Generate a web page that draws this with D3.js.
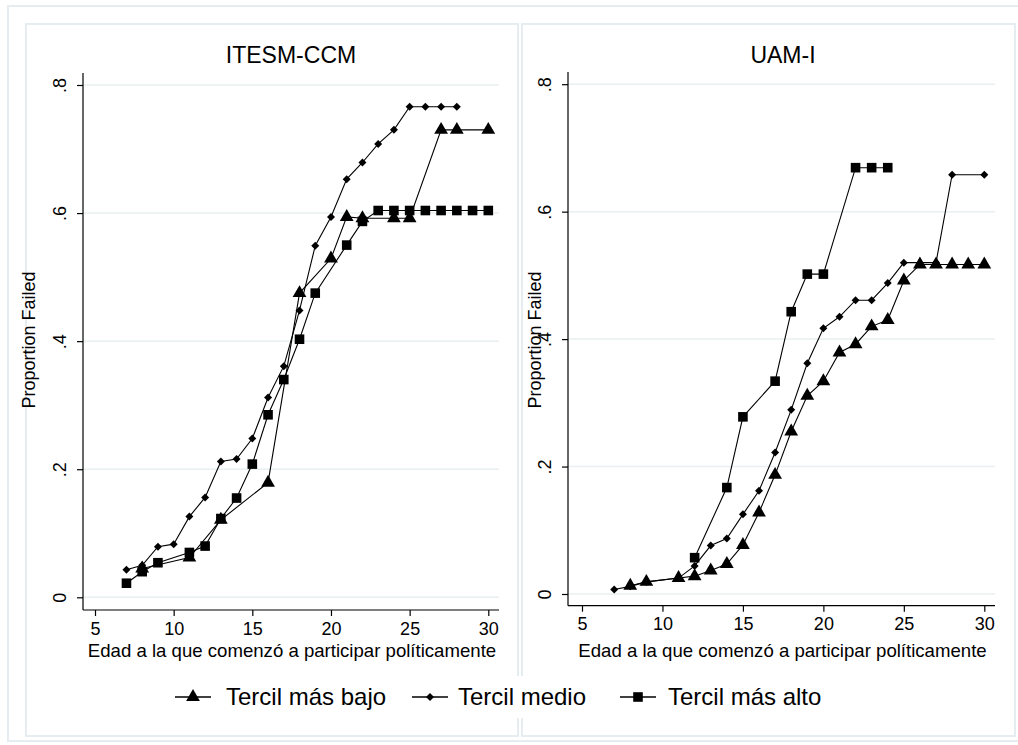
<!DOCTYPE html>
<html>
<head>
<meta charset="utf-8">
<script src="https://cdn.jsdelivr.net/npm/d3@7"></script>
<style>
  body { margin: 0; background: #fff; }
  svg { display: block; }
  text { font-family: "Liberation Sans", Arial, sans-serif; fill: #000; }
</style>
</head>
<body>
<svg id="chart" width="1018" height="745"></svg>
<script>
//////////////////////////
// Data //
//////////////////////////
const yTicks = [0, 0.2, 0.4, 0.6, 0.8];
const yTickLabels = ["0", ".2", ".4", ".6", ".8"];
const xTicks = [5, 10, 15, 20, 25, 30];

const seriesNames = ["Tercil más bajo", "Tercil medio", "Tercil más alto"];

// ITESM-CCM
const itesmBajoAge = [8, 11, 13, 16, 18, 20, 21, 22, 24, 25, 27, 28, 30];
const itesmBajoVal = [0.045, 0.062, 0.121, 0.179, 0.475, 0.529, 0.594, 0.592, 0.592, 0.592, 0.730, 0.730, 0.730];
const itesmMedioAge = [7, 8, 9, 10, 11, 12, 13, 14, 15, 16, 17, 18, 19, 20, 21, 22, 23, 24, 25, 26, 27, 28];
const itesmMedioVal = [0.043, 0.050, 0.079, 0.083, 0.126, 0.156, 0.212, 0.216, 0.248, 0.312, 0.361, 0.448,
  0.549, 0.594, 0.653, 0.679, 0.708, 0.730, 0.766, 0.766, 0.766, 0.766];
const itesmAltoAge = [7, 8, 9, 11, 12, 13, 14, 15, 16, 17, 18, 19, 21, 22, 23, 24, 25, 26, 27, 28, 29, 30];
const itesmAltoVal = [0.022, 0.040, 0.054, 0.070, 0.080, 0.123, 0.155, 0.208, 0.285, 0.340, 0.403, 0.475,
  0.550, 0.587, 0.604, 0.604, 0.604, 0.604, 0.604, 0.604, 0.604, 0.604];

// UAM-I
const uamBajoAge = [8, 9, 11, 12, 13, 14, 15, 16, 17, 18, 19, 20, 21, 22, 23, 24, 25, 26, 27, 28, 29, 30];
const uamBajoVal = [0.013, 0.019, 0.025, 0.028, 0.037, 0.047, 0.077, 0.128, 0.187, 0.255, 0.311, 0.334,
  0.379, 0.392, 0.420, 0.430, 0.492, 0.517, 0.517, 0.517, 0.517, 0.517];
const uamMedioAge = [7, 8, 9, 11, 12, 13, 14, 15, 16, 17, 18, 19, 20, 21, 22, 23, 24, 25, 27, 28, 30];
const uamMedioVal = [0.007, 0.012, 0.019, 0.025, 0.044, 0.076, 0.087, 0.125, 0.162, 0.222, 0.289, 0.362,
  0.417, 0.435, 0.461, 0.461, 0.488, 0.520, 0.520, 0.658, 0.658];
const uamAltoAge = [12, 14, 15, 17, 18, 19, 20, 22, 23, 24];
const uamAltoVal = [0.057, 0.167, 0.278, 0.334, 0.443, 0.502, 0.502, 0.669, 0.669, 0.669];

////////////////////////
// Layout of the page //
////////////////////////
const panels = [
  {
    title: "ITESM-CCM", titleX: 291, box: [26, 518],
    x0: 83, x1: 499, xRange: [95, 488.3], yRange: [597.3, 85], base: 610, top: 73,
    yTitleX: 35,
    series: [[itesmBajoAge, itesmBajoVal], [itesmMedioAge, itesmMedioVal], [itesmAltoAge, itesmAltoVal]],
  },
  {
    title: "UAM-I", titleX: 783, box: [522, 1015],
    x0: 568, x1: 995, xRange: [582, 984.3], yRange: [594, 84.2], base: 605.7, top: 72,
    yTitleX: 541,
    series: [[uamBajoAge, uamBajoVal], [uamMedioAge, uamMedioVal], [uamAltoAge, uamAltoVal]],
  },
];

const gridColor = "#e8f0f1";
const frameColor = "#e6edf0";

// marker shapes: triangle, small diamond, square
const markers = [
  { type: d3.symbolTriangle, size: 82, rotate: 0 },
  { type: d3.symbolSquare, size: 32, rotate: 45 },
  { type: d3.symbolSquare, size: 92, rotate: 0 },
];

const svg = d3.select("#chart");

svg.append("rect").attr("width", 1018).attr("height", 745).attr("fill", "#fff");

// outer frame
svg.append("rect")
  .attr("x", 8).attr("y", 6).attr("width", 1030).attr("height", 735)
  .attr("fill", "none").attr("stroke", frameColor).attr("stroke-width", 2);

panels.forEach((p) => {
  const g = svg.append("g");

  // panel box
  g.append("rect")
    .attr("x", p.box[0]).attr("y", 24)
    .attr("width", p.box[1] - p.box[0]).attr("height", 712)
    .attr("fill", "none").attr("stroke", frameColor).attr("stroke-width", 2);

  const x = d3.scaleLinear().domain([5, 30]).range(p.xRange);
  const y = d3.scaleLinear().domain([0, 0.8]).range(p.yRange);

  // grid lines
  g.append("g").selectAll("line").data(yTicks).join("line")
    .attr("x1", p.x0).attr("x2", p.x1)
    .attr("y1", (d) => y(d)).attr("y2", (d) => y(d))
    .attr("stroke", gridColor).attr("stroke-width", 1.5);

  // axis lines
  g.append("line")
    .attr("x1", p.x0).attr("x2", p.x0).attr("y1", p.top).attr("y2", p.base)
    .attr("stroke", "#000").attr("stroke-width", 1.2);
  g.append("line")
    .attr("x1", p.x0).attr("x2", p.x1).attr("y1", p.base).attr("y2", p.base)
    .attr("stroke", "#000").attr("stroke-width", 1.2);

  // x axis ticks
  const xAxis = g.append("g")
    .attr("transform", `translate(0,${p.base})`)
    .call(d3.axisBottom(x).tickValues(xTicks).tickSize(6).tickSizeOuter(0).tickPadding(6));
  xAxis.select(".domain").remove();
  xAxis.selectAll("line").attr("stroke", "#000").attr("stroke-width", 1.2);
  xAxis.selectAll("text")
    .attr("font-size", 18).attr("font-family", "Liberation Sans, Arial, sans-serif").attr("fill", "#000");

  // y axis ticks (labels rotated like the original)
  const yAxis = g.append("g")
    .attr("transform", `translate(${p.x0},0)`)
    .call(d3.axisLeft(y).tickValues(yTicks).tickSize(6).tickSizeOuter(0)
      .tickFormat((d, i) => yTickLabels[i]));
  yAxis.select(".domain").remove();
  yAxis.selectAll("line").attr("stroke", "#000").attr("stroke-width", 1.2);
  yAxis.selectAll("text")
    .attr("font-size", 18).attr("font-family", "Liberation Sans, Arial, sans-serif").attr("fill", "#000")
    .attr("x", null).attr("dy", null)
    .attr("text-anchor", "middle")
    .attr("transform", "translate(-17,0) rotate(-90)");

  // titles
  g.append("text")
    .attr("x", p.titleX).attr("y", 63)
    .attr("text-anchor", "middle").attr("font-size", 23)
    .text(p.title);
  g.append("text")
    .attr("transform", `translate(${p.yTitleX},340) rotate(-90)`)
    .attr("text-anchor", "middle").attr("font-size", 18)
    .text("Proportion Failed");
  g.append("text")
    .attr("x", (p.x0 + p.x1) / 2 + 1).attr("y", 657)
    .attr("text-anchor", "middle").attr("font-size", 18.6)
    .text("Edad a la que comenzó a participar políticamente");

  // connected series
  const line = d3.line().x((d) => x(d[0])).y((d) => y(d[1]));
  p.series.forEach((s, k) => {
    const pts = s[0].map((a, i) => [a, s[1][i]]);
    g.append("path")
      .datum(pts)
      .attr("d", line)
      .attr("fill", "none").attr("stroke", "#000").attr("stroke-width", 1.1);
    const m = markers[k];
    g.append("g").selectAll("path").data(pts).join("path")
      .attr("d", d3.symbol().type(m.type).size(m.size))
      .attr("transform", (d) => `translate(${x(d[0])},${y(d[1])}) rotate(${m.rotate})`)
      .attr("fill", "#000");
  });
});

////////////
// Legend //
////////////
const legendY = 697;
const legendItems = [
  { cx: 193, tx: 226 },
  { cx: 430, tx: 458 },
  { cx: 638, tx: 668 },
];
const legend = svg.append("g");
legend.append("rect")
  .attr("x", 160).attr("y", 676).attr("width", 690).attr("height", 42).attr("fill", "#fff");
legendItems.forEach((it, k) => {
  legend.append("line")
    .attr("x1", it.cx - 18).attr("x2", it.cx + 18)
    .attr("y1", legendY).attr("y2", legendY)
    .attr("stroke", "#000").attr("stroke-width", 1.3);
  const m = markers[k];
  legend.append("path")
    .attr("d", d3.symbol().type(m.type).size(m.size)())
    .attr("transform", `translate(${it.cx},${legendY}) rotate(${m.rotate})`)
    .attr("fill", "#000");
  legend.append("text")
    .attr("x", it.tx).attr("y", legendY + 8)
    .attr("font-size", 24)
    .text(seriesNames[k]);
});
</script>
</body>
</html>
